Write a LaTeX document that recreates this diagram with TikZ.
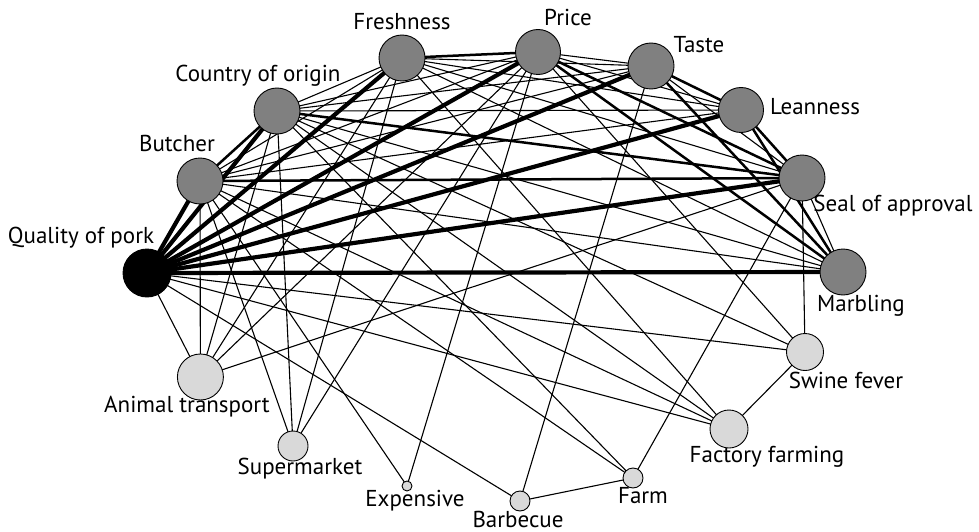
\documentclass[tikz,border=0pt]{standalone}
\usepackage{fontspec}
\setmainfont{PT Sans}
\pgfdeclarelayer{bg}
\pgfsetlayers{bg,main}
\begin{document}
\begin{tikzpicture}[x=1pt,y=-1pt,
  vtx/.style={circle,draw=black,line width=0.9pt,inner sep=0pt},
  dark/.style={vtx,fill=black},
  mid/.style={vtx,fill=black!50},
  lite/.style={vtx,fill=black!15},
  lbl/.style={inner sep=0pt,font=\fontsize{23}{26}\selectfont},
  thk/.style={line width=4.2pt},
  med/.style={line width=2.5pt},
  thn/.style={line width=1.1pt}]
\useasboundingbox (0,0) rectangle (979,532);
% nodes
\node[dark,minimum size=48pt] (Q) at (147,273) {};
\node[mid,minimum size=46pt] (B) at (200,181) {};
\node[mid,minimum size=46pt] (C) at (277,111) {};
\node[mid,minimum size=46pt] (F) at (402,58) {};
\node[mid,minimum size=45pt] (P) at (538,52) {};
\node[mid,minimum size=46pt] (T) at (651,66) {};
\node[mid,minimum size=45pt] (L) at (741,110) {};
\node[mid,minimum size=46pt] (S) at (802,178) {};
\node[mid,minimum size=46pt] (M) at (843,272) {};
\node[lite,minimum size=37pt] (SF) at (805,352) {};
\node[lite,minimum size=38pt] (FF) at (729,429) {};
\node[lite,minimum size=20pt] (Fa) at (633,478) {};
\node[lite,minimum size=20pt] (Ba) at (520,501) {};
\node[lite,minimum size=10pt] (E) at (407,486) {};
\node[lite,minimum size=30pt] (Su) at (293,446) {};
\node[lite,minimum size=46pt] (A) at (200.4,377) {};
% labels
\node[lbl] (lQ) at (81,238) {Quality of pork};
\node[lbl] (lB) at (177,143) {Butcher};
\node[lbl] (lC) at (258,76) {Country of origin};
\node[lbl] (lF) at (402,22) {Freshness};
\node[lbl] (lP) at (568,17) {Price};
\node[lbl] (lT) at (699,45) {Taste};
\node[lbl] (lL) at (815,107) {Leanness};
\node[lbl] (lS) at (893,206) {Seal of approval};
\node[lbl] (lM) at (861,306) {Marbling};
\node[lbl] (lSF) at (846,380) {Swine fever};
\node[lbl] (lFF) at (767,457) {Factory farming};
\node[lbl] (lFa) at (643,496) {Farm};
\node[lbl] (lBa) at (518,519) {Barbecue};
\node[lbl] (lE) at (415,501) {Expensive};
\node[lbl] (lSu) at (300,469) {Supermarket};
\node[lbl] (lA) at (187,407) {Animal transport};
% edges
\begin{pgfonlayer}{bg}
\foreach \a/\b in {B/F,B/P,B/T,B/L,B/M,C/F,C/P,C/T,C/L,C/M,F/T,F/L,F/S,F/M,P/T,P/L,T/S,S/M,
  Q/A,Q/SF,Q/FF,Q/Ba,B/A,B/Su,B/E,B/Fa,B/FF,C/A,C/Su,C/Fa,C/FF,C/SF,F/A,F/Su,F/FF,
  P/A,P/Su,P/E,P/SF,T/Ba,S/A,S/SF,S/Fa,SF/FF,Ba/Fa}
  \draw[thn] (\a.center) -- (\b.center);
\foreach \a/\b in {B/C,B/S,C/S,P/S,T/M,L/M,L/S,T/L,F/P,P/M}
  \draw[med] (\a.center) -- (\b.center);
\foreach \b in {B,C,F,P,T,L,S,M}
  \draw[thk] (Q.center) -- (\b.center);
\end{pgfonlayer}
\end{tikzpicture}
\end{document}
